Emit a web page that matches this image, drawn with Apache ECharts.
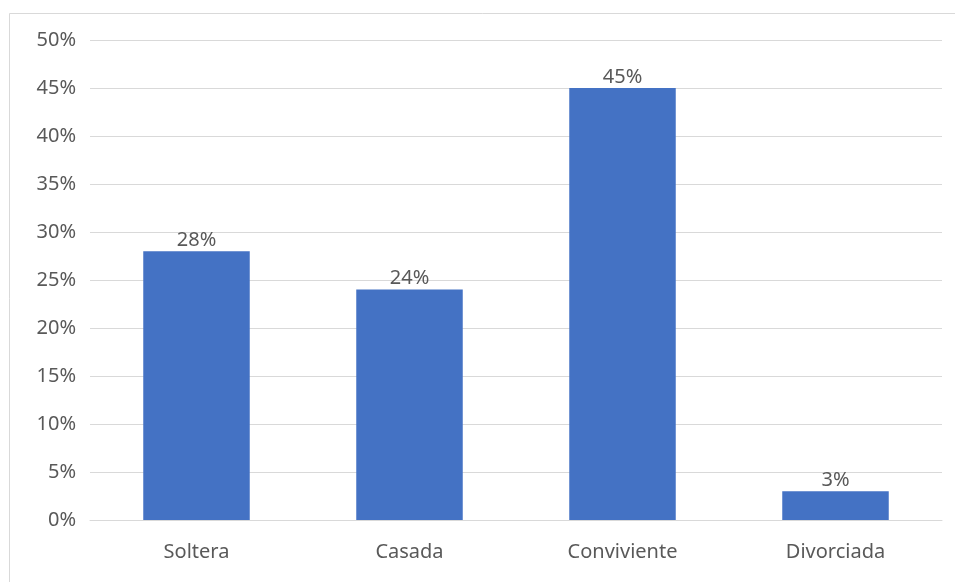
<!DOCTYPE html>
<html><head><meta charset="utf-8">
<script src="https://cdn.jsdelivr.net/npm/echarts@6/dist/echarts.min.js"></script>
<style>html,body{margin:0;padding:0;background:#fff}#c{width:955px;height:582px}</style>
</head><body><div id="c"></div>
<script>
const categories = ['Soltera', 'Casada', 'Conviviente', 'Divorciada'];
const values = [28, 24, 45, 3];
const yTicks = [0, 5, 10, 15, 20, 25, 30, 35, 40, 45, 50];

const chart = echarts.init(document.getElementById('c'), null, {renderer: 'canvas'});
const font = 'Noto Sans';
chart.setOption({
  animation: false,
  graphic: [{
    type: 'rect', silent: true, z: -10,
    shape: {x: 9.5, y: 13.5, width: 1000, height: 700},
    style: {fill: '#fff', stroke: '#d9d9d9', lineWidth: 1}
  }],
  grid: {left: 90, right: 13, top: 40, bottom: 62, containLabel: false},
  xAxis: {
    type: 'category', data: categories,
    axisLine: {show: true, lineStyle: {color: '#d9d9d9', width: 1}},
    axisTick: {show: false},
    axisLabel: {color: '#595959', fontSize: 20, fontFamily: font, margin: 22}
  },
  yAxis: {
    type: 'value', min: yTicks[0], max: yTicks[yTicks.length - 1], interval: 5,
    axisLine: {show: false}, axisTick: {show: false},
    splitLine: {lineStyle: {color: '#d9d9d9', width: 1}},
    axisLabel: {color: '#595959', fontSize: 20, fontFamily: font, margin: 14, formatter: v => v + '%'}
  },
  series: [{
    type: 'bar', data: values, barWidth: '50%',
    itemStyle: {color: '#4472C4'},
    label: {show: true, position: 'top', distance: 1, color: '#595959', fontSize: 20, fontFamily: font, formatter: p => p.value + '%'}
  }]
});
</script></body></html>
